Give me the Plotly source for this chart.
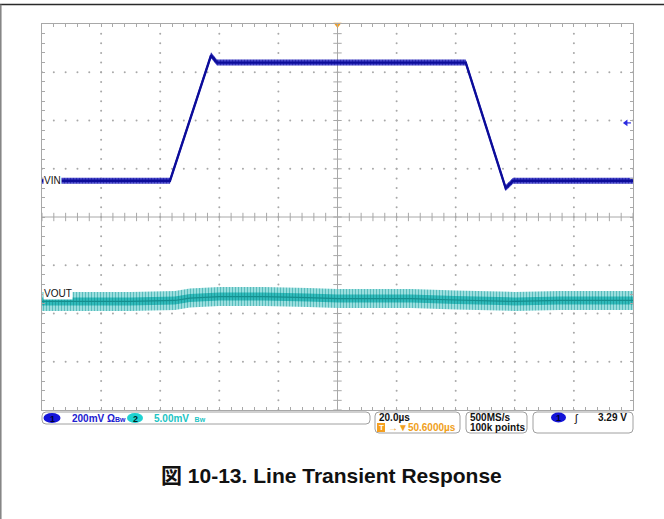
import numpy as np
import plotly.graph_objects as go

W, H = 664, 519

# ---------------- data ----------------
# Channel 1 (VIN), 200 mV/div
vin_time_us = [0, 43.3, 57.2, 59.2, 143.4, 156.9, 159.4, 200]
vin_volts = [3.05, 3.05, 3.57, 3.54, 3.54, 3.02, 3.05, 3.05]
# Channel 2 (VOUT, AC coupled), 5 mV/div, deviation in mV
vout_time_us = [0, 30, 45, 50, 60, 75, 90, 100, 110, 125, 140, 150, 160, 175, 190, 200]
vout_dev_mv = [0.0, 0.0, 0.1, 0.35, 0.5, 0.5, 0.4, 0.3, 0.3, 0.3, 0.15, 0.05, 0.0, 0.1, 0.1, 0.1]

ch1_scale_v = 0.2      # V/div
ch1_center_v = 2.90    # V at screen centre
ch2_scale_mv = 5.0     # mV/div
ch2_pos_div = -1.75    # channel 2 position
trig_level_v = 3.29
trig_time_us = 100.0

ch1_label = "200mV"
ch2_label = "5.00mV"
timebase_label = "20.0µs"
trig_delay_label = "→▼50.6000µs"
rate_label = "500MS/s"
points_label = "100k points"
trig_value_label = "3.29 V"
title_text = "<b>図 10-13. Line Transient Response</b>"

# ---------------- geometry ----------------
X0, X1, Y0, Y1 = 42, 633, 24, 410     # graticule in pixels
PX_PER_DIV_Y = (Y1 - Y0) / 8.0


def px(x):
    return x / W


def py(y):
    return 1 - y / H


vin_div = (np.array(vin_volts) - ch1_center_v) / ch1_scale_v
vout_div = np.array(vout_dev_mv) / ch2_scale_mv + ch2_pos_div
trig_div = (trig_level_v - ch1_center_v) / ch1_scale_v

fig = go.Figure()

GRID = "#a8a8a8"
# dotted graticule
major_x = np.arange(0, 201, 20)
minor_x = np.arange(0, 200.1, 4)
major_y = np.arange(-4, 4.1, 1)
minor_y = np.arange(-4, 4.01, 0.2)
dx, dy = [], []
for mx in major_x:
    if mx in (0, 100, 200):
        continue
    for my in minor_y:
        dx.append(mx); dy.append(my)
for my in major_y:
    if my in (-4, 0, 4):
        continue
    for mx in minor_x:
        dx.append(mx); dy.append(my)
fig.add_trace(go.Scatter(x=dx, y=dy, mode="markers",
                         marker=dict(size=2, color=GRID), hoverinfo="skip"))
# centre cross ticks
fig.add_trace(go.Scatter(x=list(minor_x), y=[0] * len(minor_x), mode="markers",
                         marker=dict(symbol="line-ns", size=6, line=dict(width=1, color=GRID)),
                         hoverinfo="skip"))
fig.add_trace(go.Scatter(x=[100] * len(minor_y), y=list(minor_y), mode="markers",
                         marker=dict(symbol="line-ew", size=6, line=dict(width=1, color=GRID)),
                         hoverinfo="skip"))

# ---------------- VOUT (teal noisy band) ----------------
hw_out = 9.5 / PX_PER_DIV_Y
hw_core = 4.0 / PX_PER_DIV_Y
fig.add_trace(go.Scatter(x=vout_time_us, y=vout_div + hw_out, mode="lines",
                         line=dict(width=0, color="#7fd3d3"), hoverinfo="skip"))
fig.add_trace(go.Scatter(x=vout_time_us, y=vout_div - hw_out, mode="lines",
                         line=dict(width=0, color="#7fd3d3"), fill="tonexty",
                         fillcolor="#86d6d6",
                         fillpattern=dict(shape="|", fgcolor="#189a9a", bgcolor="#9adede",
                                          size=3, solidity=0.35),
                         hoverinfo="skip"))
fig.add_trace(go.Scatter(x=vout_time_us, y=vout_div + hw_core, mode="lines",
                         line=dict(width=0, color="#22b4b4"), hoverinfo="skip"))
fig.add_trace(go.Scatter(x=vout_time_us, y=vout_div - hw_core, mode="lines",
                         line=dict(width=0, color="#22b4b4"), fill="tonexty",
                         fillcolor="#26b8b8",
                         fillpattern=dict(shape="|", fgcolor="#0f8080", bgcolor="#30bebe",
                                          size=3, solidity=0.4),
                         hoverinfo="skip"))
fig.add_trace(go.Scatter(x=vout_time_us, y=vout_div, mode="lines",
                         line=dict(width=1.2, color="#148f8f"), hoverinfo="skip"))

# ---------------- VIN (dark blue) ----------------
hw_in = 3.0 / PX_PER_DIV_Y
fig.add_trace(go.Scatter(x=vin_time_us, y=vin_div + hw_in, mode="lines",
                         line=dict(width=0, color="#3434c4"), hoverinfo="skip"))
fig.add_trace(go.Scatter(x=vin_time_us, y=vin_div - hw_in, mode="lines",
                         line=dict(width=0, color="#3434c4"), fill="tonexty",
                         fillcolor="#3a3ac8",
                         fillpattern=dict(shape="|", fgcolor="#08088c", bgcolor="#4e4ed0",
                                          size=3, solidity=0.45),
                         hoverinfo="skip"))
fig.add_trace(go.Scatter(x=vin_time_us, y=vin_div, mode="lines",
                         line=dict(width=2.4, color="#0c0c9a"), hoverinfo="skip"))

# trigger markers
fig.add_trace(go.Scatter(x=[trig_time_us], y=[3.99], mode="markers", cliponaxis=False,
                         marker=dict(symbol="triangle-down", size=7, color="#f5a020"),
                         hoverinfo="skip"))
fig.add_trace(go.Scatter(x=[197.6], y=[trig_div], mode="markers", cliponaxis=False,
                         marker=dict(symbol="triangle-left", size=6, color="#2a2ae0"),
                         hoverinfo="skip"))
fig.add_trace(go.Scatter(x=[197.6, 199.3], y=[trig_div, trig_div], mode="lines",
                         line=dict(width=1.2, color="#2a2ae0"), hoverinfo="skip"))

shapes = []
# centre cross lines
shapes.append(dict(type="line", xref="x", yref="y", x0=100, x1=100, y0=-4, y1=4,
                   line=dict(color=GRID, width=1), layer="below"))
shapes.append(dict(type="line", xref="x", yref="y", x0=0, x1=200, y0=0, y1=0,
                   line=dict(color=GRID, width=1), layer="below"))
# outer page frame
shapes.append(dict(type="line", xref="paper", yref="paper", x0=0, x1=1, y0=py(4.5), y1=py(4.5),
                   line=dict(color="#2a2a2a", width=1.5)))
shapes.append(dict(type="line", xref="paper", yref="paper", x0=px(0.8), x1=px(0.8), y0=py(4.5), y1=0,
                   line=dict(color="#808080", width=1.5)))


def rrect(x0, y0, x1, y1, r=4):
    p = (f"M {px(x0 + r)} {py(y0)} L {px(x1 - r)} {py(y0)} Q {px(x1)} {py(y0)} {px(x1)} {py(y0 + r)} "
         f"L {px(x1)} {py(y1 - r)} Q {px(x1)} {py(y1)} {px(x1 - r)} {py(y1)} "
         f"L {px(x0 + r)} {py(y1)} Q {px(x0)} {py(y1)} {px(x0)} {py(y1 - r)} "
         f"L {px(x0)} {py(y0 + r)} Q {px(x0)} {py(y0)} {px(x0 + r)} {py(y0)} Z")
    return dict(type="path", xref="paper", yref="paper", path=p,
                line=dict(color="#a0a0a0", width=1), fillcolor="rgba(0,0,0,0)")


shapes.append(rrect(42, 412, 370, 424))
shapes.append(rrect(375, 412, 460, 433))
shapes.append(rrect(466, 412, 527, 433))
shapes.append(rrect(533, 412, 633, 433))


def ellipse(xc, yc, w, h, color):
    return dict(type="circle", xref="paper", yref="paper",
                x0=px(xc - w / 2), x1=px(xc + w / 2), y0=py(yc + h / 2), y1=py(yc - h / 2),
                fillcolor=color, line=dict(width=0))


shapes.append(ellipse(52, 418, 17, 10, "#1414d8"))
shapes.append(ellipse(135, 418, 16, 10, "#1ed2d2"))
shapes.append(ellipse(558.5, 417.5, 15, 10, "#1414d8"))
# orange T box
shapes.append(dict(type="rect", xref="paper", yref="paper", x0=px(377), x1=px(385),
                   y0=py(432), y1=py(423), fillcolor="#f5a020", line=dict(width=0)))

SCOPE_FONT = "Liberation Sans, Arial, sans-serif"
ann = []


def txt(x, y, s, color="#111111", size=10, anchor="left", bold=True, bg=None):
    d = dict(xref="paper", yref="paper", x=px(x), y=py(y), text=(f"<b>{s}</b>" if bold else s),
             showarrow=False, xanchor=anchor, yanchor="middle",
             font=dict(family=SCOPE_FONT, size=size, color=color))
    if bg:
        d["bgcolor"] = bg
        d["borderpad"] = 0
    ann.append(d)


# channel labels inside graticule
ann.append(dict(xref="paper", yref="y", x=px(43), y=vin_div[0], text="VIN", showarrow=False,
                xanchor="left", yanchor="middle", bgcolor="white", borderpad=0,
                font=dict(family=SCOPE_FONT, size=10, color="#111111")))
ann.append(dict(xref="paper", yref="y", x=px(43), y=vout_div[0], yshift=8, text="VOUT",
                showarrow=False, xanchor="left", yanchor="middle", bgcolor="white", borderpad=0,
                font=dict(family=SCOPE_FONT, size=10, color="#111111")))

# status bar
txt(52, 418.5, "1", "#000033", 9, "center")
txt(70, 418.5, ch1_label + " Ω<span style='font-size:7px'>Bw</span>", "#2020d0", 10)
txt(135, 418.5, "2", "#002222", 9, "center")
txt(152, 418.5, ch2_label + "  <span style='font-size:7px'>Bw</span>", "#20c4c4", 10)
txt(377, 417, timebase_label, "#111111", 10)
txt(381, 427.5, "T", "white", 8, "center")
txt(386, 427.5, trig_delay_label, "#f0a020", 10)
txt(468, 417, rate_label, "#111111", 10)
txt(468, 427.5, points_label, "#111111", 10)
txt(558.5, 418, "1", "#000033", 9, "center")
txt(576, 418, "ʃ", "#111111", 11, "center", bold=False)
txt(629, 417.5, trig_value_label, "#111111", 10, "right")

# figure caption
ann.append(dict(xref="paper", yref="paper", x=px(331), y=py(475), text=title_text, showarrow=False,
                xanchor="center", yanchor="middle",
                font=dict(family="Liberation Sans, Arial, Noto Sans CJK JP, sans-serif",
                          size=21, color="#111111")))

axis_common = dict(showline=True, linecolor=GRID, linewidth=1, mirror="ticks",
                   ticks="inside", tickcolor=GRID, ticklen=3, tickwidth=1,
                   showticklabels=False, showgrid=False, zeroline=False, fixedrange=True)

fig.update_layout(
    width=W, height=H,
    margin=dict(l=0, r=0, t=0, b=0),
    paper_bgcolor="white", plot_bgcolor="white",
    showlegend=False,
    xaxis=dict(range=[0, 200], domain=[px(X0), px(X1)], tick0=0, dtick=4, **axis_common),
    yaxis=dict(range=[-4, 4], domain=[py(Y1), py(Y0)], tick0=0, dtick=0.2, **axis_common),
    shapes=shapes,
    annotations=ann,
)

fig.write_html("out.html", config={"displayModeBar": False},
               post_script="document.body.style.margin='0';document.body.style.padding='0';")
